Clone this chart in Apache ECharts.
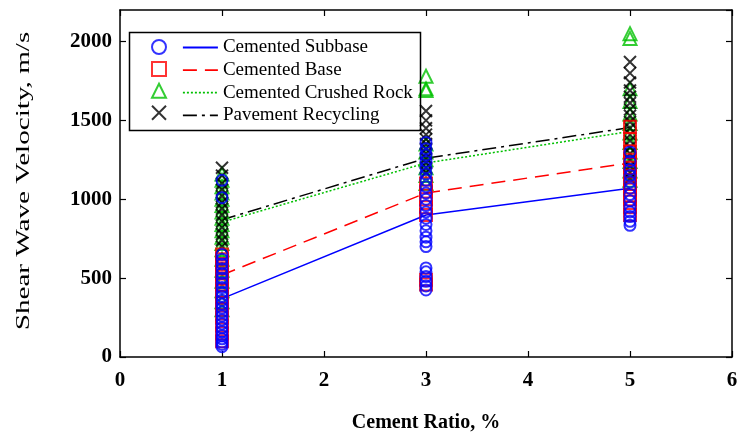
<!DOCTYPE html>
<html>
<head>
<meta charset="utf-8">
<script src="https://cdn.jsdelivr.net/npm/echarts@6/dist/echarts.min.js"></script>
<style>
html,body{margin:0;padding:0;background:#fff;}
#chart{width:739px;height:436px;}
</style>
</head>
<body>
<div id="chart"></div>
<script>
// ---- data ----
const seriesNames = ['Cemented Subbase', 'Cemented Base', 'Cemented Crushed Rock', 'Pavement Recycling'];
const cementRatio = [1, 3, 5];
const xTicks = [0, 1, 2, 3, 4, 5, 6];
const yTicks = [0, 500, 1000, 1500, 2000];

// mean trend lines
const subbaseMean = [370, 900, 1070];
const baseMean = [520, 1040, 1230];
const crushedMean = [855, 1230, 1430];
const recyclingMean = [870, 1260, 1455];

// individual measurements at 1 %, 3 %, 5 %
const subbaseAt1 = [65, 80, 95, 115, 135, 160, 185, 210, 235, 260, 285, 310, 335, 360, 385, 410, 440, 470, 500, 530, 560, 590, 620, 650, 1010, 1120];
const subbaseAt3 = [425, 450, 480, 510, 540, 565, 700, 730, 760, 800, 840, 880, 920, 960, 1000, 1040, 1080, 1120, 1160, 1200, 1240, 1280, 1320, 1360];
const subbaseAt5 = [835, 860, 890, 920, 950, 990, 1030, 1070, 1110, 1150, 1190, 1240, 1300];

const baseAt1 = [100, 150, 200, 250, 300, 340, 380, 420, 460, 500, 530, 560, 590, 620, 650];
const baseAt3 = [460, 490, 900, 950, 1000, 1050, 1100];
const baseAt5 = [900, 950, 1000, 1020, 1060, 1100, 1150, 1200, 1250, 1300, 1380, 1460];

const crushedAt1 = [300, 350, 420, 480, 550, 620, 680, 720, 760, 800, 840, 880, 920, 960, 1000, 1040, 1080, 1120, 1160];
const crushedAt3 = [1780, 1700, 1690, 1100, 1150, 1200, 1250, 1300, 1350];
const crushedAt5 = [2050, 2020, 1700, 1620, 1540, 1480, 1420, 1360, 1300, 1240, 1180, 1120];

const recyclingAt1 = [700, 740, 780, 820, 860, 900, 940, 980, 1020, 1060, 1100, 1150, 1200];
const recyclingAt3 = [1560, 1500, 1450, 1410, 1380, 1350, 1320, 1290, 1260, 1230, 1200, 1170];
const recyclingAt5 = [1870, 1800, 1740, 1690, 1650, 1610, 1570, 1530, 1490, 1450, 1410, 1370, 1330, 1290, 1250, 1210, 1170, 1130];

// ---- build ----
function pts(a1, a3, a5) {
  const out = [];
  [a1, a3, a5].forEach((arr, i) => arr.forEach(v => out.push([cementRatio[i], v])));
  return out;
}
function line(means) { return means.map((v, i) => [cementRatio[i], v]); }

const FONT = '"Liberation Serif", "Times New Roman", serif';
const colors = ['#0000ff', '#ff0000', '#00c000', '#000000'];
const symbols = ['circle', 'rect', 'triangle', 'path://M0,0L10,10M10,0L0,10'];
const sizes = [11, 12, 13, 12];
const pointSets = [
  pts(subbaseAt1, subbaseAt3, subbaseAt5),
  pts(baseAt1, baseAt3, baseAt5),
  pts(crushedAt1, crushedAt3, crushedAt5),
  pts(recyclingAt1, recyclingAt3, recyclingAt5)
];
const meanSets = [line(subbaseMean), line(baseMean), line(crushedMean), line(recyclingMean)];
const lineTypes = ['solid', [14, 8], [2, 2], [14, 5, 3, 5]];
const zOrder = [6, 5, 3, 4];

const series = [];
seriesNames.forEach((n, i) => {
  series.push({
    name: n + ' data',
    type: 'scatter',
    data: pointSets[i],
    symbol: symbols[i],
    symbolSize: sizes[i],
    z: zOrder[i],
    itemStyle: { color: 'rgba(0,0,0,0)', borderColor: colors[i], borderWidth: 2 },
    emphasis: { disabled: true }
  });
});
seriesNames.forEach((n, i) => {
  series.push({
    name: n,
    type: 'line',
    data: meanSets[i],
    symbol: 'none',
    z: 2,
    lineStyle: { color: colors[i], width: 1.5, type: lineTypes[i] },
    itemStyle: { color: colors[i] },
    emphasis: { disabled: true }
  });
});

const axisCommon = {
  type: 'value',
  axisLine: { show: true, onZero: false, lineStyle: { color: '#000', width: 1.5 } },
  axisTick: { show: true, inside: true, length: 6, lineStyle: { color: '#000', width: 1.2 } },
  splitLine: { show: false }
};

const chart = echarts.init(document.getElementById('chart'), null, { renderer: 'canvas' });
chart.setOption({
  animation: false,
  backgroundColor: '#fff',
  grid: { left: 120, right: 7, top: 10, bottom: 79, containLabel: false, outerBoundsMode: 'none' },
  xAxis: [
    Object.assign({}, axisCommon, {
      min: xTicks[0], max: xTicks[xTicks.length - 1], interval: 1, position: 'bottom',
      name: 'Cement Ratio, %', nameLocation: 'middle', nameGap: 56,
      nameTextStyle: { fontFamily: FONT, fontSize: 20, fontWeight: 'bold', color: '#000' },
      axisLabel: { fontFamily: FONT, fontSize: 21, fontWeight: 'bold', color: '#000', margin: 13 }
    }),
    Object.assign({}, axisCommon, {
      min: xTicks[0], max: xTicks[xTicks.length - 1], interval: 1, position: 'top',
      axisLabel: { show: false }
    })
  ],
  yAxis: [
    Object.assign({}, axisCommon, {
      min: yTicks[0], max: 2200, interval: 500, position: 'left',
      axisLabel: { fontFamily: FONT, fontSize: 21, fontWeight: 'bold', color: '#000', margin: 8,
        showMaxLabel: false, formatter: v => String(v) }
    }),
    Object.assign({}, axisCommon, {
      min: yTicks[0], max: 2200, interval: 500, position: 'right',
      axisLabel: { show: false }
    })
  ],
  legend: [
    {
      data: seriesNames.map(n => n + ' data'),
      orient: 'vertical', left: 146, top: 34,
      itemWidth: 14, itemHeight: 14, itemGap: 5.9,
      formatter: () => '',
      selectedMode: false,
      textStyle: { fontSize: 10 }
    },
    {
      data: seriesNames,
      orient: 'vertical', left: 177, top: 33,
      itemWidth: 35, itemHeight: 14, itemGap: 3.6,
      selectedMode: false,
      itemStyle: { color: 'rgba(0,0,0,0)', borderWidth: 0, opacity: 0 },
      lineStyle: { width: 1.8 },
      textStyle: { fontFamily: FONT, fontSize: 19, color: '#000' }
    }
  ],
  graphic: [
    {
      type: 'rect', left: 127, top: 30, z: 10,
      shape: { width: 291, height: 98 },
      style: { fill: 'none', stroke: '#000', lineWidth: 1.5 }
    },
    {
      type: 'text', x: 24, y: 181, rotation: Math.PI / 2, scaleX: 1.62, z: 10,
      style: {
        text: 'Shear Wave Velocity, m/s', fill: '#000',
        font: '18px "Liberation Serif", "Times New Roman", serif',
        align: 'center', verticalAlign: 'middle'
      }
    }
  ],
  series: series
});
</script>
</body>
</html>
